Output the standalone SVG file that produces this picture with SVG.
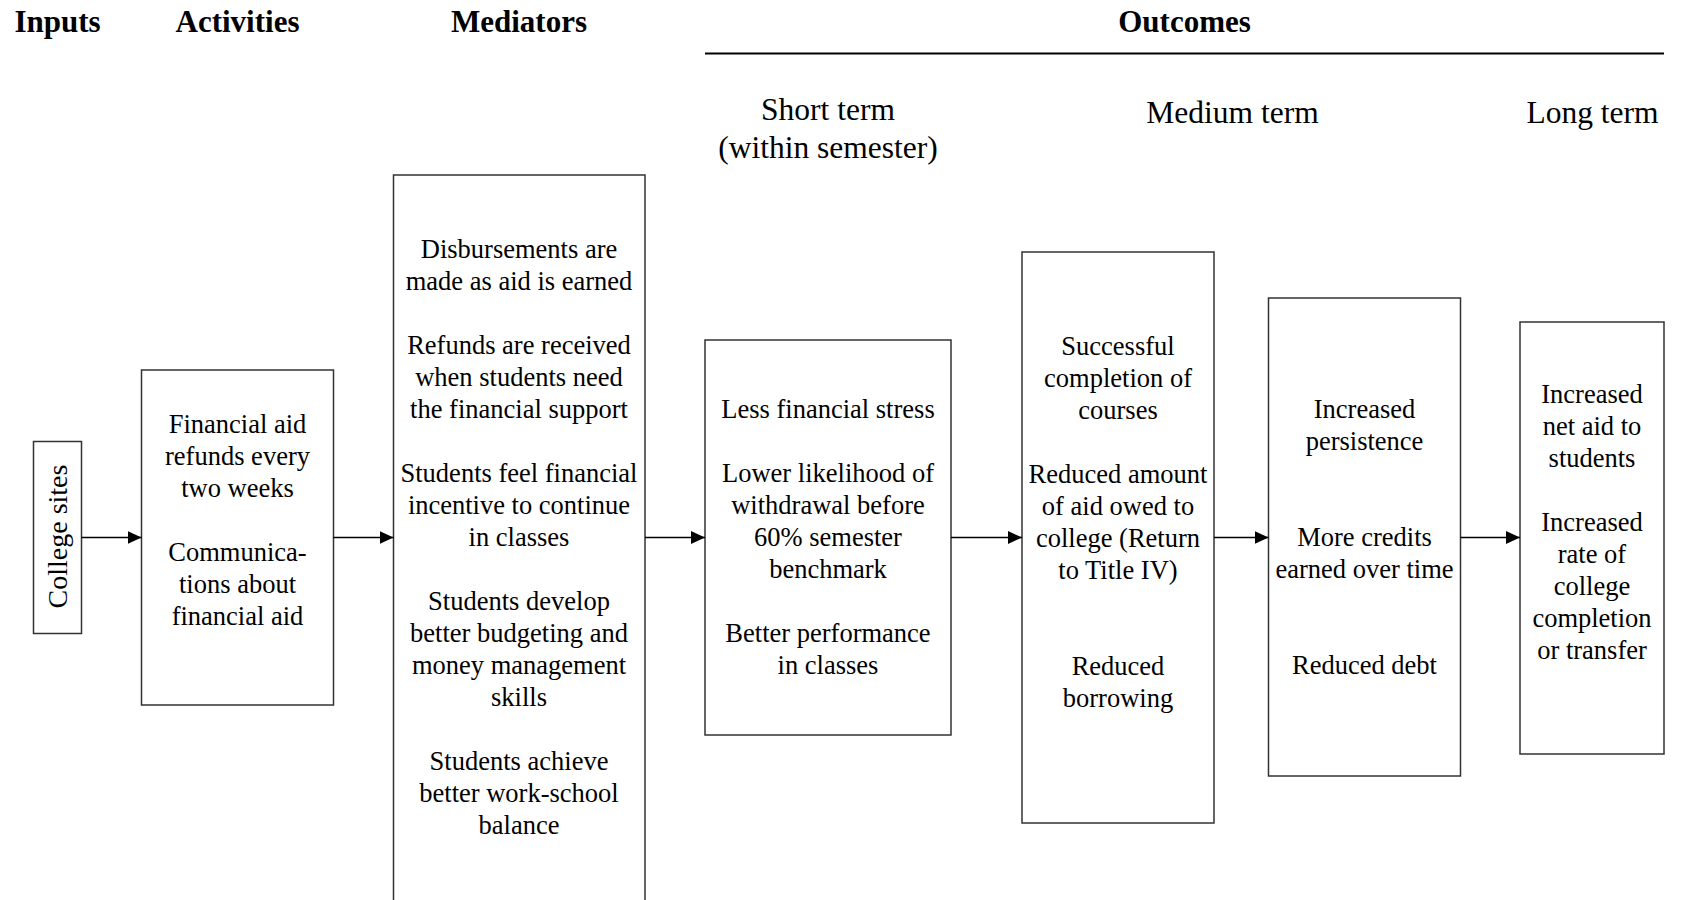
<svg xmlns="http://www.w3.org/2000/svg" width="1682" height="900" viewBox="0 0 1682 900">
<defs>
<marker id="arr" viewBox="0 0 14 13" refX="14" refY="6.5" markerWidth="14" markerHeight="13" markerUnits="userSpaceOnUse" orient="auto">
<path d="M0,0 L14,6.5 L0,13 Z" fill="#000"/>
</marker>
<style>
.box{fill:#fff;stroke:#333;stroke-width:1.5}
.t{font-family:"Liberation Serif","Times New Roman",serif;font-size:26.5px;fill:#000;text-anchor:middle}
.h{font-family:"Liberation Serif","Times New Roman",serif;font-size:31px;font-weight:bold;fill:#000;text-anchor:middle}
.s{font-family:"Liberation Serif","Times New Roman",serif;font-size:31.5px;fill:#000;text-anchor:middle}
.c{stroke:#000;stroke-width:1.4;fill:none;marker-end:url(#arr)}
</style>
</defs>
<rect width="1682" height="900" fill="#fff"/>
<g id="headers">
<text class="h" x="57.5" y="32">Inputs</text>
<text class="h" x="237.5" y="32">Activities</text>
<text class="h" x="519" y="32">Mediators</text>
<text class="h" x="1184.5" y="32">Outcomes</text>
<line x1="705" y1="53.5" x2="1664" y2="53.5" stroke="#000" stroke-width="2"/>
<text class="s" x="828" y="120">Short term</text>
<text class="s" x="828" y="157.5">(within semester)</text>
<text class="s" x="1232.5" y="123">Medium term</text>
<text class="s" x="1592.5" y="123">Long term</text>
</g>
<g id="inputs">
<rect class="box" x="33.5" y="441.5" width="48" height="192"/>
<text class="t" style="font-size:28px" transform="translate(67,536.5) rotate(-90)">College sites</text>
</g>
<g id="activities">
<rect class="box" x="141.5" y="370" width="192" height="335"/>
<text class="t" x="237.5" y="433">Financial aid</text>
<text class="t" x="237.5" y="465">refunds every</text>
<text class="t" x="237.5" y="497">two weeks</text>
<text class="t" x="237.5" y="561">Communica-</text>
<text class="t" x="237.5" y="593">tions about</text>
<text class="t" x="237.5" y="625">financial aid</text>
</g>
<g id="mediators">
<rect class="box" x="393.5" y="175" width="251.5" height="740"/>
<text class="t" x="519" y="258">Disbursements are</text>
<text class="t" x="519" y="290">made as aid is earned</text>
<text class="t" x="519" y="354">Refunds are received</text>
<text class="t" x="519" y="386">when students need</text>
<text class="t" x="519" y="418">the financial support</text>
<text class="t" x="519" y="482">Students feel financial</text>
<text class="t" x="519" y="514">incentive to continue</text>
<text class="t" x="519" y="546">in classes</text>
<text class="t" x="519" y="610">Students develop</text>
<text class="t" x="519" y="642">better budgeting and</text>
<text class="t" x="519" y="674">money management</text>
<text class="t" x="519" y="706">skills</text>
<text class="t" x="519" y="770">Students achieve</text>
<text class="t" x="519" y="802">better work-school</text>
<text class="t" x="519" y="834">balance</text>
</g>
<g id="short-term">
<rect class="box" x="705" y="340" width="246" height="395"/>
<text class="t" x="828" y="418">Less financial stress</text>
<text class="t" x="828" y="482">Lower likelihood of</text>
<text class="t" x="828" y="514">withdrawal before</text>
<text class="t" x="828" y="546">60% semester</text>
<text class="t" x="828" y="578">benchmark</text>
<text class="t" x="828" y="642">Better performance</text>
<text class="t" x="828" y="674">in classes</text>
</g>
<g id="medium-term-1">
<rect class="box" x="1022" y="252" width="192" height="571"/>
<text class="t" x="1118" y="354.5">Successful</text>
<text class="t" x="1118" y="386.5">completion of</text>
<text class="t" x="1118" y="418.5">courses</text>
<text class="t" x="1118" y="482.5">Reduced amount</text>
<text class="t" x="1118" y="514.5">of aid owed to</text>
<text class="t" x="1118" y="546.5">college (Return</text>
<text class="t" x="1118" y="578.5">to Title IV)</text>
<text class="t" x="1118" y="674.5">Reduced</text>
<text class="t" x="1118" y="706.5">borrowing</text>
</g>
<g id="medium-term-2">
<rect class="box" x="1268.5" y="298" width="192" height="478"/>
<text class="t" x="1364.5" y="418">Increased</text>
<text class="t" x="1364.5" y="450">persistence</text>
<text class="t" x="1364.5" y="546">More credits</text>
<text class="t" x="1364.5" y="578">earned over time</text>
<text class="t" x="1364.5" y="674">Reduced debt</text>
</g>
<g id="long-term">
<rect class="box" x="1520" y="322" width="144" height="432"/>
<text class="t" x="1592" y="403">Increased</text>
<text class="t" x="1592" y="435">net aid to</text>
<text class="t" x="1592" y="467">students</text>
<text class="t" x="1592" y="531">Increased</text>
<text class="t" x="1592" y="563">rate of</text>
<text class="t" x="1592" y="595">college</text>
<text class="t" x="1592" y="627">completion</text>
<text class="t" x="1592" y="659">or transfer</text>
</g>
<g id="connectors">
<line class="c" x1="81.5" y1="537.5" x2="141.5" y2="537.5"/>
<line class="c" x1="333.5" y1="537.5" x2="393.5" y2="537.5"/>
<line class="c" x1="645" y1="537.5" x2="705" y2="537.5"/>
<line class="c" x1="951" y1="537.5" x2="1022" y2="537.5"/>
<line class="c" x1="1214" y1="537.5" x2="1268.5" y2="537.5"/>
<line class="c" x1="1460.5" y1="537.5" x2="1520" y2="537.5"/>
</g>
</svg>
